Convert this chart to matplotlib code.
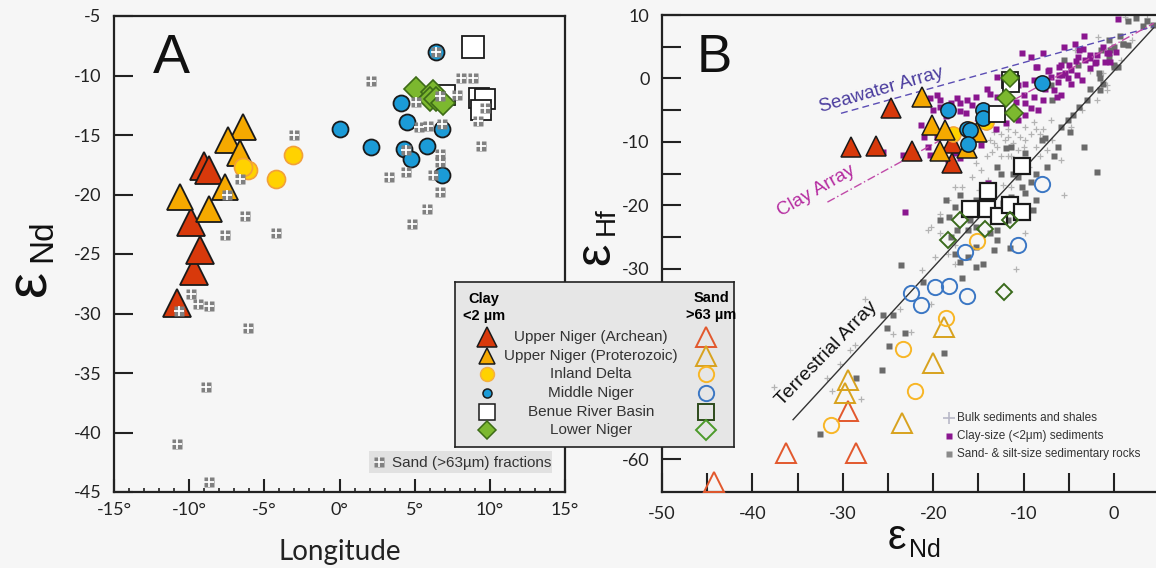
import matplotlib.pyplot as plt

plt.rcParams['font.family'] = ['Liberation Sans', 'DejaVu Sans']

W, H = 1156, 568
BG = '#f6f6f6'
TICK_FONT = ['Lato', 'DejaVu Sans']

# ---------------- panel A: longitude vs eNd ----------------
a_arch_lon = [-10.8, -9.7, -9.3, -9.9, -9.0, -8.7]
a_arch_nd = [-29.1, -26.4, -24.7, -22.3, -17.6, -17.9]
a_prot_lon = [-6.4, -7.4, -6.6, -7.6, -10.6, -8.7]
a_prot_nd = [-14.3, -15.4, -16.5, -19.4, -20.2, -21.2]
a_delta_lon = [-3.1, -4.2, -6.1, -6.4]
a_delta_nd = [-16.7, -18.7, -17.9, -17.7]
a_mid_lon = [6.4, 0.0, 2.1, 4.1, 4.5, 4.3, 4.75, 5.8, 6.8, 6.8]
a_mid_nd = [-8.0, -14.5, -16.0, -12.3, -13.9, -16.2, -17.0, -15.9, -14.5, -18.4]
a_benue_lon = [8.9, 7.0, 9.25, 9.7, 9.4]
a_benue_nd = [-7.6, -11.6, -11.9, -12.0, -12.9]
a_lower_lon = [5.1, 6.2, 6.0, 6.4, 6.9]
a_lower_nd = [-11.1, -11.4, -12.0, -12.0, -12.3]

a_sand_lon = [2.1, -3.0, -6.3, -7.6, -4.2, -6.6, -7.5, 3.3, 4.4, 6.2, 6.7, 6.7,
              6.7, 5.8, 4.8, 5.3, 5.9, 6.8, 5.1, 6.7, 7.8, 8.1, 8.9, 9.7, 9.2,
              9.4, 4.4, 6.4, -9.9, -9.4, -8.7, -10.7, -6.1, -8.9, -10.8, -8.7]
a_sand_nd = [-10.5, -15.0, -21.8, -23.4, -23.25, -18.7, -20.0, -18.5, -18.1,
             -18.4, -16.6, -17.3, -19.8, -21.2, -22.5, -14.3, -14.25, -14.1,
             -12.2, -11.7, -11.6, -10.2, -10.2, -12.7, -13.8, -15.9, -16.3,
             -8.0, -28.4, -29.2, -29.4, -29.8, -31.2, -36.2, -41.0, -44.2]

# ---------------- panel B: eNd vs eHf ----------------
b_arch_nd = [-24.7, -29.1, -26.3, -22.3, -17.9, -17.9]
b_arch_hf = [-4.6, -10.8, -10.6, -11.5, -13.4, -10.2]
b_prot_nd = [-21.2, -20.1, -18.7, -19.3, -16.3, -15.1]
b_prot_hf = [-2.9, -7.35, -8.1, -11.5, -11.0, -8.4]
b_delta_nd = [-17.8, -14.2, -16.0]
b_delta_hf = [-8.7, -6.8, -8.0]
b_mid_nd = [-18.4, -8.0, -14.5, -14.5, -16.3, -15.9, -16.1]
b_mid_hf = [-4.9, -0.7, -5.0, -6.3, -7.9, -8.2, -10.3]
b_benue_nd = [-11.5, -11.4, -12.9]
b_benue_hf = [-0.2, -0.8, -5.6]
b_lower_nd = [-11.5, -11.9, -11.1]
b_lower_hf = [0.0, -3.1, -5.5]

s_arch_nd = [-29.4, -36.3, -28.5, -44.3]
s_arch_hf = [-52.5, -59.1, -59.1, -63.6]
s_prot_nd = [-18.8, -20.0, -29.4, -29.8, -23.4]
s_prot_hf = [-39.2, -44.9, -47.5, -49.6, -54.3]
s_delta_nd = [-15.1, -18.6, -23.3, -22.0, -31.3]
s_delta_hf = [-25.7, -37.7, -42.6, -49.2, -54.7]
s_mid_nd = [-8.0, -10.6, -16.45, -22.5, -21.4, -19.8, -18.2, -16.3]
s_mid_hf = [-16.7, -26.2, -27.3, -33.8, -35.7, -32.9, -32.7, -34.3]
s_benue_nd = [-10.2, -13.9, -15.9, -14.1, -12.7, -11.5, -10.2]
s_benue_hf = [-13.8, -17.8, -20.6, -20.6, -21.7, -20.0, -21.0]
s_lower_nd = [-17.0, -14.3, -11.5, -18.4, -12.2]
s_lower_hf = [-22.3, -23.8, -22.3, -25.5, -33.6]

# literature compilations (background)
clay_nd = [0.4, -3.3, -10.2, -9.2, -8.6, -7.2, -5.9, -4.7, -3.9, -2.7, -1.9, -0.8,
           -0.4, -2.1, -5.7, -5.1, -4.1, -3.5, -6.2, -6.6, -7.6, -8.8, -9.8,
           -10.6, -10.0, -8.8, -7.8, -5.9, -13.7, -12.9, -15.3, -16.3, -17.4,
           -19.2, -19.6, -20.4, -19.2, -18.0, -17.0, -15.7, -9.8, -9.2, -8.4,
           -9.8, -10.6, -11.9, -13.1, -16.4, -21.4, -21.0, -20.4, -19.6, -17.6,
           -17.0, -14.7, -25.5, -23.3, -23.1, -13.9, -11.4, -6.3, -4.3, -3.4,
           -2.6, -4.0, -3.2, -2.0, -0.55, 0.2, -1.0, -8.5, -7.3, -6.1, -5.4,
           -6.1, -5.0, -4.2, -12.9, -11.9, -14.1, -7.0, -4.7, -2.7, -1.2, -5.5,
           -7.8, -10.8, -17.0, -20.0, -18.6, -15.3, -20.6, -18.4]
clay_hf = [9.3, 6.7, 4.0, 3.4, 1.85, 1.3, 2.1, 1.3, 4.5, 3.2, 3.7, 4.0, 2.6, 2.4,
           0.5, 0.0, 0.5, -0.3, -0.5, -1.8, -1.6, -0.3, -0.8, -1.0, -2.6, -2.9,
           -3.4, -2.6, -2.4, -2.9, -2.9, -3.4, -3.1, -3.4, -2.6, -3.1, -4.5,
           -3.9, -5.2, -4.2, -3.9, -4.7, -5.0, -5.8, -6.6, -7.1, -7.9, -5.5,
           -7.3, -9.2, -12.1, -9.2, -11.8, -12.6, -10.5, -11.6, -12.1, -21.0,
           -16.5, -5.2, -2.9, 5.5, 4.6, 3.7, 3.4, 2.9, 2.6, 4.0, 4.2, 2.6, 1.8,
           1.2, 1.8, 0.9, 0.5, 2.1, 2.8, 0.3, -1.3, -1.6, 0.3, -0.8, 1.6, 5.0,
           5.0, 4.0, -3.7, -3.9, -5.0, -6.0, -7.6, -10.8, -12.9]

rock_nd = [0.7, -0.6, 1.0, 1.6, -0.4, 0.0, -1.5, -2.7, -1.5, -4.5, -5.9, -4.9,
           -6.2, -7.6, -8.0, -3.3, -1.9, -7.4, -9.8, -10.4, -11.4, -11.9, -12.9,
           -12.5, -11.2, -9.2, -10.6, -9.8, -11.4, -9.0, -8.6, -11.0, -12.3,
           -17.0, -18.6, -17.6, -18.2, -19.2, -16.4, -15.9, -16.1, -15.3, -12.9,
           -13.7, -17.4, -18.0, -17.6, -17.0, -14.5, -13.3, -11.5, -16.8, -23.6,
           -6.8, -7.0, -21.1, -25.5, -24.4, -25.1, -23.1, -24.9, -25.7, -28.5,
           -18.8, -32.5, 1.5, 2.4, 3.7, 4.3, 3.2, 1.0, 0.0, -1.4, -0.55, -5.5,
           -4.0, 0.0, -1.65, -5.1, -3.9, -3.0, -1.2, 0.4, -6.6, -8.6, -10.2,
           -13.5, -15.3, -14.5, -11.75, -12.9, -15.3, -16.1, -15.3]
rock_hf = [6.7, 6.1, 5.5, 5.3, 4.5, 2.1, 0.0, -1.6, -1.8, -5.8, -7.6, -8.4,
           -10.8, -9.4, -9.7, -10.8, -14.7, -13.9, -11.8, -12.9, -10.8, -11.0,
           -13.9, -15.0, -15.0, -16.3, -15.5, -18.1, -18.7, -20.8, -19.2, -19.2,
           -19.7, -18.4, -19.2, -20.2, -21.8, -22.3, -21.3, -22.3, -23.9, -23.4,
           -23.9, -24.4, -23.9, -25.0, -27.6, -28.9, -29.2, -27.1, -26.8, -31.5,
           -29.4, -3.4, -1.0, -32.1, -37.3, -37.3, -39.4, -40.1, -42.2, -46.0,
           -47.2, -43.3, -56.1, 9.1, 9.5, 9.1, 8.4, 8.2, 5.5, 5.0, 4.5, 3.4,
           2.9, 2.1, 1.8, 0.8, -6.6, -4.5, -3.4, -0.8, 1.85, -12.3, -15.0, -17.1,
           -17.1, -19.2, -21.3, -22.3, -25.5, -26.5, -28.1, -29.7]

bulk_nd = [-13.7, -12.5, -11.75, -11.0, -9.8, -8.6, -12.9, -14.1, -15.3, -9.8,
           -10.6, -7.4, -8.2, -15.7, -16.8, -14.9, -12.3, -5.5, -20.2, -19.2,
           -21.2, -10.8, -18.4, -17.6, 1.2, 3.6, -1.2, -2.7, -4.3, -0.8, -5.9,
           -9.4, -11.75, -13.3, -11.4, -8.2, -37.6, -27.5, -28.0, -31.2, -31.8,
           -30.3, -29.2, -28.6, -24.4, -22.4, -20.2, -23.7, -1.8, -14.1, -13.3,
           -12.1, -11.2, -10.4, -9.2, -7.8, -7.0, -8.8, -11.75, -13.5, -12.5,
           -10.0, -8.6, -6.8, -4.7, -3.5, -1.9, -0.8, 0.8, 2.0, -14.7, -13.9,
           -11.4, -17.6, -18.4, -19.2, -20.6, -12.1, -9.8, -17.6, -19.8]
bulk_hf = [-9.7, -8.7, -9.2, -8.4, -7.6, -7.9, -10.8, -12.3, -13.4, -9.7, -11.3,
           -11.3, -12.3, -15.5, -17.1, -17.6, -16.8, -18.4, -23.4, -24.4, -30.2,
           -30.0, -27.6, -26.3, 9.7, 9.5, 0.8, 1.1, 4.5, -1.0, -12.9, -13.9,
           -12.3, -10.2, -12.3, -8.7, -48.6, -34.7, -50.5, -49.2, -47.3, -45.0,
           -42.8, -42.0, -40.3, -40.0, -35.5, -36.3, 6.5, -7.6, -8.4, -9.7,
           -10.2, -9.2, -8.7, -7.9, -6.6, -6.8, -7.9, -11.6, -12.3, -10.8,
           -10.8, -9.7, -7.6, -5.0, -3.4, -1.8, 2.9, 6.1, -14.4, -16.0, -17.1,
           -17.1, -19.2, -21.3, -23.9, -21.3, -24.4, -29.2, -28.1]

# reference arrays (end points)
terr_nd = [-35.5, 4.4]
terr_hf = [-53.8, 8.0]
sea_nd = [-30.2, 4.4]
sea_hf = [-5.5, 8.2]
clayarr_nd = [-31.7, 4.4]
clayarr_hf = [-19.5, 8.7]

legend_names = ['Upper Niger (Archean)', 'Upper Niger (Proterozoic)', 'Inland Delta',
                'Middle Niger', 'Benue River Basin', 'Lower Niger']

# styles
C_ARCH, C_PROT, C_DELTA, C_MID, C_LOWER = '#d8390b', '#f5a900', '#ffd200', '#1b9bd7', '#7cb82f'
S_ARCH, S_PROT, S_DELTA, S_MID, S_BENUE, S_LOWER = '#e2582d', '#d8a21e', '#f8b626', '#3b77c4', '#1a1a1a', '#3a6a1c'
EDGE = '#1a1a1a'


def fpos(x, y):
    return x / W, 1 - y / H


def style_spines(ax):
    for s in ax.spines.values():
        s.set_linewidth(1.6)
        s.set_color('#222222')


fig = plt.figure(figsize=(W / 100, H / 100), dpi=100, facecolor=BG)

# ================= panel A =================
ax_a = fig.add_axes([114 / W, 1 - 492 / H, 451 / W, 476 / H], facecolor=BG)
ax_a.set_xlim(-15, 15)
ax_a.set_ylim(-45, -5)
style_spines(ax_a)
xt = list(range(-15, 16, 5))
ax_a.set_xticks(xt)
ax_a.set_xticklabels([f'{v}°' for v in xt], fontfamily=TICK_FONT)
ax_a.set_xticks(list(range(-15, 16)), minor=True)
yt = list(range(-45, -4, 5))
ax_a.set_yticks(yt)
ax_a.set_yticklabels([str(v) for v in yt], fontfamily=TICK_FONT)
ax_a.tick_params(axis='x', which='major', direction='in', length=9.5, width=1.5,
                 pad=7, labelsize=13, colors='#222222')
ax_a.tick_params(axis='x', which='minor', direction='in', length=3, width=1.2, colors='#222222')
ax_a.tick_params(axis='y', which='major', direction='in', length=14, width=1.5,
                 pad=9, labelsize=13, colors='#222222')

ax_a.plot(a_arch_lon, a_arch_nd, ls='none', marker='^', ms=20, mfc=C_ARCH, mec=EDGE, mew=1.3, zorder=3)
ax_a.plot(a_prot_lon, a_prot_nd, ls='none', marker='^', ms=18.5, mfc=C_PROT, mec=EDGE, mew=1.3, zorder=3)
ax_a.plot(a_delta_lon, a_delta_nd, ls='none', marker='o', ms=13, mfc=C_DELTA, mec='#f2a03a', mew=1.2, zorder=3)
ax_a.plot(a_mid_lon, a_mid_nd, ls='none', marker='o', ms=11.5, mfc=C_MID, mec=EDGE, mew=1.3, zorder=3)
ax_a.plot(a_benue_lon[1:], a_benue_nd[1:], ls='none', marker='s', ms=14, mfc='white', mec=EDGE, mew=1.3, zorder=3)
ax_a.plot(a_benue_lon[:1], a_benue_nd[:1], ls='none', marker='s', ms=16.5, mfc='white', mec=EDGE, mew=1.3, zorder=3)
ax_a.plot(a_lower_lon, a_lower_nd, ls='none', marker='D', ms=12, mfc=C_LOWER, mec='#3d6b17', mew=1.2, zorder=3)
ax_a.plot(a_sand_lon, a_sand_nd, ls='none', marker='s', ms=7.5, mfc='#808080', mec='none', zorder=4)
ax_a.plot(a_sand_lon, a_sand_nd, ls='none', marker='+', ms=7.5, mec='white', mew=1.3, zorder=5)

fig.text(*fpos(153, 73), 'A', fontsize=40, ha='left', va='baseline', color='#111111')
fig.text(*fpos(340, 560), 'Longitude', fontsize=20, ha='center', va='baseline',
         fontfamily=TICK_FONT, color='#222222')
fig.text(*fpos(30, 283), 'ε', fontsize=42, rotation=90, ha='center', va='center', color='#111111')
fig.text(*fpos(43, 241), 'Nd', fontsize=24, rotation=90, ha='center', va='center', color='#111111')

# sand fraction key inside A
ax_k = fig.add_axes([369 / W, 1 - 473 / H, 183 / W, 22 / H], facecolor='#e1e1e1', zorder=6)
ax_k.set_xlim(0, 183)
ax_k.set_ylim(22, 0)
ax_k.set_xticks([])
ax_k.set_yticks([])
for s in ax_k.spines.values():
    s.set_visible(False)
ax_k.plot([10], [11], marker='s', ms=7, mfc='#808080', mec='none')
ax_k.plot([10], [11], marker='+', ms=7, mec='white', mew=1.2)
ax_k.text(23, 11.5, 'Sand (>63µm) fractions', fontsize=11, va='center', ha='left', color='#333333')

# ================= panel B =================
ax_b = fig.add_axes([662 / W, 1 - 492 / H, (W - 662) / W, 477 / H], facecolor=BG)
ax_b.set_xlim(-50, 4.65)
ax_b.set_ylim(-65.2, 10)
style_spines(ax_b)
ax_b.spines['right'].set_visible(False)
bx = list(range(-50, 1, 10))
ax_b.set_xticks(bx)
ax_b.set_xticklabels([str(v) for v in bx], fontfamily=TICK_FONT)
ax_b.set_xticks(list(range(-45, 1, 10)), minor=True)
by = list(range(-60, 11, 10))
ax_b.set_yticks(by)
# -50 and -40 sit behind the key box in the reference
ax_b.set_yticklabels(['' if v in (-50, -40) else str(v) for v in by], fontfamily=TICK_FONT)
ax_b.set_yticks(list(range(-55, 6, 10)), minor=True)
ax_b.tick_params(axis='both', which='both', direction='in', length=14, width=1.5,
                 colors='#222222')
ax_b.tick_params(axis='x', which='major', pad=10, labelsize=13)
ax_b.tick_params(axis='y', which='major', pad=9, labelsize=13)

ax_b.plot(bulk_nd, bulk_hf, ls='none', marker='+', ms=5, mec='#b3b3b3', mew=0.9, zorder=2)
ax_b.plot(rock_nd, rock_hf, ls='none', marker='s', ms=4.5, mfc='#6a6a6a', mec='none', zorder=2)
ax_b.plot(clay_nd, clay_hf, ls='none', marker='s', ms=5, mfc='#8a168f', mec='none', zorder=2)

ax_b.plot(terr_nd, terr_hf, color='#333333', lw=1.0, zorder=2.5)
ax_b.plot(sea_nd, sea_hf, color='#5b4db4', lw=1.0, dashes=(5, 3), zorder=2.5)
ax_b.plot(clayarr_nd, clayarr_hf, color='#c04aa8', lw=1.0, dashes=(6, 2, 1, 2), zorder=2.5)

ax_b.text(-31.8, -43.4, 'Terrestrial Array', rotation=46, fontsize=14, ha='center',
          va='center', color='#111111', rotation_mode='anchor')
ax_b.text(-25.7, -1.8, 'Seawater Array', rotation=16, fontsize=13.5, ha='center',
          va='center', color='#4a3c9e', rotation_mode='anchor')
ax_b.text(-32.9, -17.7, 'Clay Array', rotation=30, fontsize=13.5, ha='center',
          va='center', color='#b52ba0', rotation_mode='anchor')

ax_b.plot(s_arch_nd, s_arch_hf, ls='none', marker='^', ms=14.5, mfc='none', mec=S_ARCH, mew=1.4, zorder=3)
ax_b.plot(s_prot_nd, s_prot_hf, ls='none', marker='^', ms=14.5, mfc='none', mec=S_PROT, mew=1.4, zorder=3)
ax_b.plot(s_delta_nd, s_delta_hf, ls='none', marker='o', ms=11, mfc='none', mec=S_DELTA, mew=1.4, zorder=3)
ax_b.plot(s_mid_nd, s_mid_hf, ls='none', marker='o', ms=11, mfc='none', mec=S_MID, mew=1.4, zorder=3)
ax_b.plot(s_benue_nd, s_benue_hf, ls='none', marker='s', ms=11, mfc='white', mec=S_BENUE, mew=1.6, zorder=3)
ax_b.plot(s_lower_nd, s_lower_hf, ls='none', marker='D', ms=8, mfc='none', mec=S_LOWER, mew=1.4, zorder=3)

ax_b.plot(b_arch_nd, b_arch_hf, ls='none', marker='^', ms=15, mfc=C_ARCH, mec=EDGE, mew=1.1, zorder=4)
ax_b.plot(b_delta_nd, b_delta_hf, ls='none', marker='o', ms=11, mfc=C_DELTA, mec='#f2a03a', mew=1.0, zorder=4)
ax_b.plot(b_prot_nd, b_prot_hf, ls='none', marker='^', ms=15, mfc=C_PROT, mec=EDGE, mew=1.1, zorder=4)
ax_b.plot(b_mid_nd, b_mid_hf, ls='none', marker='o', ms=11, mfc=C_MID, mec=EDGE, mew=1.1, zorder=4)
ax_b.plot(b_benue_nd, b_benue_hf, ls='none', marker='s', ms=11.5, mfc='white', mec=EDGE, mew=1.3, zorder=4)
ax_b.plot(b_lower_nd, b_lower_hf, ls='none', marker='D', ms=9, mfc=C_LOWER, mec='#3d6b17', mew=1.1, zorder=4)

fig.text(*fpos(697, 72), 'B', fontsize=38, ha='left', va='baseline', color='#111111')
fig.text(*fpos(897, 538), 'ε', fontsize=30, ha='center', va='center', color='#111111')
fig.text(*fpos(925, 550), 'Nd', fontsize=18, ha='center', va='center', color='#111111')
fig.text(*fpos(596, 254), 'ε', fontsize=36, rotation=90, ha='center', va='center', color='#111111')
fig.text(*fpos(607, 221), 'Hf', fontsize=20, rotation=90, ha='center', va='center', color='#111111')

# literature key in B
ax_l = fig.add_axes([940 / W, 1 - 464 / H, 214 / W, 54 / H])
ax_l.set_xlim(0, 214)
ax_l.set_ylim(54, 0)
ax_l.axis('off')
key_labels = ['Bulk sediments and shales', 'Clay-size (<2μm) sediments',
              'Sand- & silt-size sedimentary rocks']
ax_l.plot([9], [8], marker='+', ms=9, mec='#b8b8c8', mew=1.2)
ax_l.plot([9], [26], marker='s', ms=5, mfc='#8a168f', mec='none')
ax_l.plot([9], [44], marker='s', ms=5, mfc='#8a8a8a', mec='none')
for i, lab in enumerate(key_labels):
    ax_l.text(17, 8 + 18 * i, lab, fontsize=8.5, va='center', ha='left', color='#333333')

# ================= main key (spans both panels) =================
ax_g = fig.add_axes([455 / W, 1 - 447 / H, 279 / W, 165 / H], facecolor='#e6e6e6', zorder=10)
ax_g.set_xlim(0, 279)
ax_g.set_ylim(165, 0)
ax_g.set_xticks([])
ax_g.set_yticks([])
for s in ax_g.spines.values():
    s.set_linewidth(1.2)
    s.set_color('#222222')
ax_g.text(29, 17, 'Clay', fontsize=10.5, fontweight='bold', ha='center', va='center')
ax_g.text(29, 34, '<2 µm', fontsize=10.5, fontweight='bold', ha='center', va='center')
ax_g.text(256, 16, 'Sand', fontsize=10.5, fontweight='bold', ha='center', va='center')
ax_g.text(256, 33, '>63 µm', fontsize=10.5, fontweight='bold', ha='center', va='center')

rows = [55, 74, 92, 111, 130, 148]
clay_keys = [('^', 14, C_ARCH, EDGE), ('^', 12, C_PROT, EDGE), ('o', 10, C_DELTA, '#f5b040'),
             ('o', 6.5, C_MID, EDGE), ('s', 11, 'white', EDGE), ('D', 9, C_LOWER, '#3d6b17')]
sand_keys = [('^', 14, S_ARCH), ('^', 14, S_PROT), ('o', 11, S_DELTA), ('o', 11, S_MID),
             ('s', 11, '#2d4a1c'), ('D', 10, '#4c9a2a')]
for yy, name, ck, sk in zip(rows, legend_names, clay_keys, sand_keys):
    ax_g.plot([32], [yy], marker=ck[0], ms=ck[1], mfc=ck[2], mec=ck[3], mew=1.1)
    ax_g.plot([251], [yy], marker=sk[0], ms=sk[1], mfc='none', mec=sk[2], mew=1.4)
    ax_g.text(136, yy, name, fontsize=11, ha='center', va='center', color='#333333')

fig.savefig('out.png', dpi=100, facecolor=BG)
